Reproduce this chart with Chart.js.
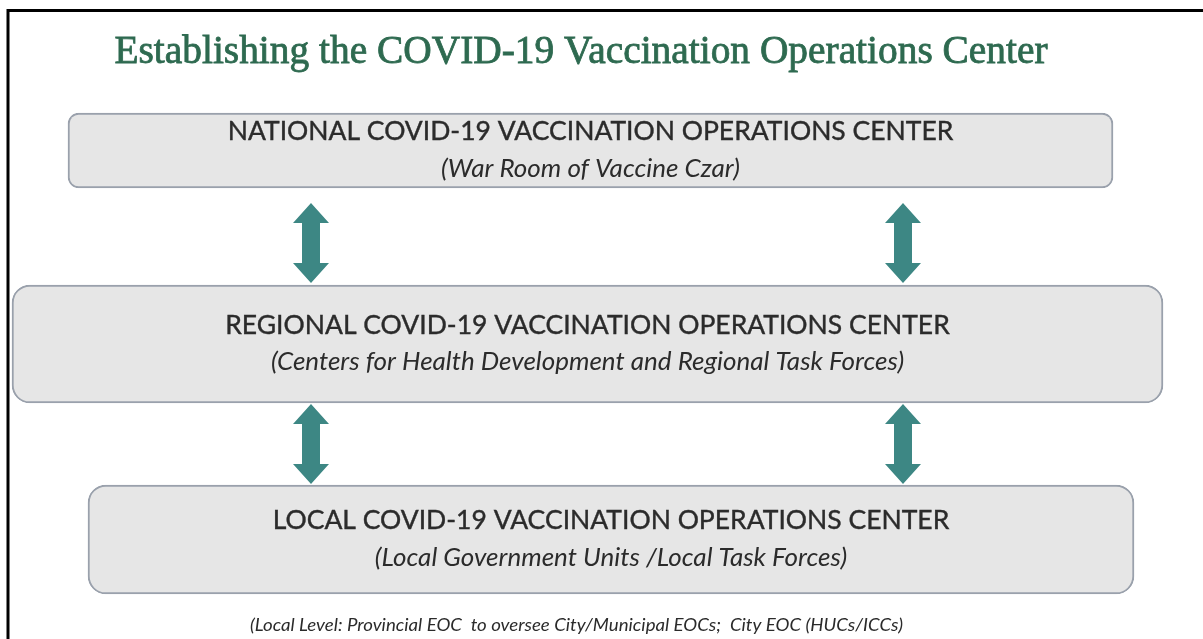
<!DOCTYPE html>
<html>
  <head>
    <title>COVID-19 Vaccination Operations Center</title>
    <script src="https://cdn.jsdelivr.net/npm/chart.js"></script>
    <style>
      body {
        margin: 0;
        background: #ffffff;
      }
      #wrap {
        width: 1203px;
        height: 639px;
        position: relative;
      }
    </style>
  </head>
  <body>
    <div id="wrap">
      <canvas id="eocChart"></canvas>
    </div>

    <script>
      // Diagram content
      const chartTitle = "Establishing the COVID-19 Vaccination Operations Center";
      const levelNames = [
        "NATIONAL COVID-19 VACCINATION OPERATIONS CENTER",
        "REGIONAL COVID-19 VACCINATION OPERATIONS CENTER",
        "LOCAL COVID-19 VACCINATION OPERATIONS CENTER",
      ];
      const levelNotes = [
        "(War Room of Vaccine Czar)",
        "(Centers for Health Development and Regional Task Forces)",
        "(Local Government Units /Local Task Forces)",
      ];
      const footNote =
        "(Local Level: Provincial EOC  to oversee City/Municipal EOCs;  City EOC (HUCs/ICCs)";

      // Box extents on the x scale and centres on the y scale (both 0..canvas size)
      const levelSpans = [
        [68, 1113],
        [12, 1163],
        [88, 1134],
      ];
      const levelRows = [150.5, 344, 539.5];

      // Two-way arrows between the levels
      const arrowCols = [311, 903];
      const arrowRanges = [
        [203, 283],
        [404, 484],
      ];

      // layout and styles
      const boxThickness = [75, 118, 109];
      const boxRadius = [11, 18, 18];
      const boxFill = "#e6e6e6";
      const boxEdge = "#9aa1ac";
      const arrowColor = "#3d8784";
      const textColor = "#2b2b2b";

      // Function to draw the outer frame, arrows and texts
      const diagramPlugin = {
        id: "diagram",
        beforeDatasetsDraw(chart) {
          const ctx = chart.ctx;
          const xs = chart.scales.x;
          const ys = chart.scales.y;
          ctx.save();
          // frame
          ctx.strokeStyle = "#000000";
          ctx.lineWidth = 3;
          ctx.beginPath();
          ctx.moveTo(xs.getPixelForValue(8), ys.getPixelForValue(639));
          ctx.lineTo(xs.getPixelForValue(8), ys.getPixelForValue(10.5));
          ctx.lineTo(xs.getPixelForValue(1203), ys.getPixelForValue(10.5));
          ctx.stroke();

          // arrows
          ctx.fillStyle = arrowColor;
          arrowRanges.forEach((r) => {
            arrowCols.forEach((c) => {
              const cx = xs.getPixelForValue(c);
              const top = ys.getPixelForValue(r[0]);
              const bot = ys.getPixelForValue(r[1]);
              const hw = 18;
              const sw = 9;
              const hh = 20;
              ctx.beginPath();
              ctx.moveTo(cx, top);
              ctx.lineTo(cx + hw, top + hh);
              ctx.lineTo(cx + sw, top + hh);
              ctx.lineTo(cx + sw, bot - hh);
              ctx.lineTo(cx + hw, bot - hh);
              ctx.lineTo(cx, bot);
              ctx.lineTo(cx - hw, bot - hh);
              ctx.lineTo(cx - sw, bot - hh);
              ctx.lineTo(cx - sw, top + hh);
              ctx.lineTo(cx - hw, top + hh);
              ctx.closePath();
              ctx.fill();
            });
          });

          // title, sized to its width in the reference
          ctx.fillStyle = "#2e6a50";
          ctx.strokeStyle = "#2e6a50";
          ctx.lineWidth = 0.8;
          ctx.textAlign = "center";
          ctx.textBaseline = "alphabetic";
          ctx.font = "38px 'Liberation Serif'";
          let w = ctx.measureText(chartTitle).width;
          const size = (38 * 934) / w;
          ctx.font = size.toFixed(1) + "px 'Liberation Serif'";
          const tx = xs.getPixelForValue(581);
          const ty = ys.getPixelForValue(63);
          ctx.fillText(chartTitle, tx, ty);
          ctx.strokeText(chartTitle, tx, ty);

          // footnote
          ctx.fillStyle = textColor;
          ctx.font = "italic 17px Lato";
          w = ctx.measureText(footNote).width;
          ctx.translate(xs.getPixelForValue(576.5), ys.getPixelForValue(631));
          ctx.scale(653 / w, 1);
          ctx.fillText(footNote, 0, 0);
          ctx.restore();
        },
        afterDatasetsDraw(chart) {
          const ctx = chart.ctx;
          ctx.save();
          ctx.fillStyle = textColor;
          ctx.strokeStyle = textColor;
          ctx.lineWidth = 0.4;
          ctx.textAlign = "center";
          ctx.textBaseline = "middle";
          chart.data.datasets.forEach((ds, i) => {
            const bar = chart.getDatasetMeta(i).data[0];
            const cx = (bar.x + bar.base) / 2;
            ctx.font = "26.5px Lato";
            ctx.fillText(levelNames[i], cx, bar.y - 19);
            ctx.strokeText(levelNames[i], cx, bar.y - 19);
            ctx.font = "italic 26px Lato";
            ctx.fillText(levelNotes[i], cx, bar.y + 18);
          });
          ctx.restore();
        },
      };

      // Function to draw the diagram
      function drawDiagram() {
        const ctx = document.getElementById("eocChart").getContext("2d");
        new Chart(ctx, {
          type: "bar",
          data: {
            datasets: levelNames.map((name, i) => ({
              label: name,
              data: [{ x: levelSpans[i], y: levelRows[i] }],
              backgroundColor: boxFill,
              borderColor: boxEdge,
              borderWidth: 2,
              borderRadius: boxRadius[i],
              borderSkipped: false,
              barThickness: boxThickness[i],
              grouped: false,
            })),
          },
          options: {
            indexAxis: "y",
            responsive: true,
            maintainAspectRatio: false,
            animation: false,
            layout: { padding: 0 },
            scales: {
              x: { type: "linear", min: 0, max: 1203, display: false },
              y: {
                type: "linear",
                min: 0,
                max: 639,
                reverse: true,
                offset: false,
                display: false,
              },
            },
            plugins: {
              legend: { display: false },
              tooltip: { enabled: false },
            },
          },
          plugins: [diagramPlugin],
        });
      }

      drawDiagram();
    </script>
  </body>
</html>
